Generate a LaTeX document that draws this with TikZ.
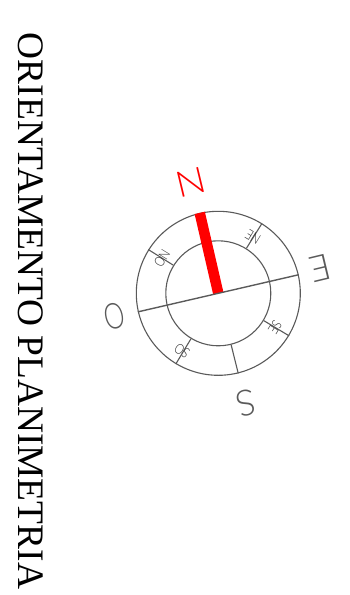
\documentclass[tikz,border=0pt]{standalone}
\usepackage{fontspec}
\setmainfont{Liberation Serif}
\newfontfamily\thinfont{Lato Light}
\usepackage{tikz}
\definecolor{ringgray}{RGB}{90,90,90}
\definecolor{markgray}{RGB}{40,40,40}
\tikzset{
  ring/.style={draw=ringgray, line width=1.1pt},
  tick/.style={draw=ringgray, line width=1.1pt},
  bigmark/.style={font=\thinfont\fontsize{36}{36}\selectfont, text=ringgray, rotate=193.5, inner sep=0pt},
  smallmark/.style={font=\thinfont\fontsize{14}{14}\selectfont, text=markgray, inner sep=0pt}
}
\begin{document}
\begin{tikzpicture}[x=1pt, y=-1pt]
  \useasboundingbox (0,0) rectangle (349,595);
  \node[rotate=-90, inner sep=0pt, font=\fontsize{37.4}{37.4}\selectfont] (title) at (30.5,311) {ORIENTAMENTO PLANIMETRIA};
  \coordinate (center) at (218.3,293.3);
  % rings
  \node[ring, circle, minimum size=164pt, inner sep=0pt] (outer) at (center) {};
  \node[ring, circle, minimum size=105pt, inner sep=0pt] (inner) at (center) {};
  % needle and cross line
  \draw[red, line width=10.5pt] (center) -- (outer.103.5);
  \draw[ring, line width=1.4pt] (outer.13.5) -- (outer.193.5);
  % ticks between the rings
  \foreach \a in {58.5,148.5,-31.5,-121.5,-76.5} {
    \draw[tick] (inner.\a) -- (outer.\a);
  }
  % labels
  \node[bigmark, text=red, xscale=1.1] (labn) at (190.5,182) {N};
  \node[bigmark] (labe) at (320.5,268) {E};
  \node[bigmark] (labs) at (245.7,403) {S};
  \node[bigmark, xscale=0.72] (labo) at (114,316) {O};
  \node[smallmark, rotate=148.5, xscale=0.8] (labne) at (253,237) {NE};
  \node[smallmark, rotate=238.5, xscale=0.8] (labno) at (162,258) {NO};
  \node[smallmark, rotate=238.5, xscale=0.8] (labse) at (275,327) {SE};
  \node[smallmark, rotate=148.5, xscale=0.8] (labso) at (182,351) {SO};
\end{tikzpicture}
\end{document}
